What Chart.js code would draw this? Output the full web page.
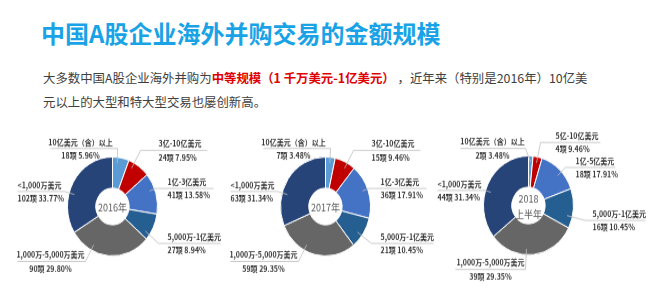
<!DOCTYPE html>
<html><head><meta charset="utf-8">
<script src="https://cdn.jsdelivr.net/npm/chart.js@4.4.0/dist/chart.umd.min.js"></script>
<style>
html,body{margin:0;padding:0;background:#fff;width:658px;height:306px;overflow:hidden;font-family:"Noto Sans CJK SC",sans-serif;}
#title{position:absolute;left:41px;top:17px;font-size:24px;font-weight:bold;color:#19a3e6;line-height:32px;white-space:nowrap;}
#sub{position:absolute;left:43px;top:66px;font-size:12.4px;line-height:24px;color:#404040;white-space:nowrap;}
#sub b{color:#e00000;}
.pie{position:absolute;width:250px;height:180px;transform:scaleY(1.1);transform-origin:125px 90px;}
</style></head><body>
<div id="title">中国A股企业海外并购交易的金额规模</div>
<div id="sub">大多数中国A股企业海外并购为<b>中等规模（1 千万美元-1亿美元）</b> ，近年来（特别是2016年）10亿美<br>元以上的大型和特大型交易也屡创新高。</div>
<div class="pie" style="left:-13px;top:117px"><canvas id="c2016"></canvas></div>
<div class="pie" style="left:200px;top:117px"><canvas id="c2017"></canvas></div>
<div class="pie" style="left:403px;top:116px"><canvas id="c2018"></canvas></div>
<script>
// categories
const names1617 = ['10亿美元（含）以上','3亿-10亿美元','1亿-3亿美元','5,000万-1亿美元','1,000万-5,000万美元','<1,000万美元'];
const names2018 = ['10亿美元（含）以上','5亿-10亿美元','1亿-5亿美元','5,000万-1亿美元','1,000万-5,000万美元','<1,000万美元'];
// deal counts (项) and printed shares (%)
const counts2016 = [18,24,41,27,90,102];
const pct2016 = [5.96,7.95,13.58,8.94,29.80,33.77];
const counts2017 = [7,15,36,21,59,63];
const pct2017 = [3.48,9.46,17.91,10.45,29.35,31.34];
const counts2018 = [2,4,18,16,39,44];
const pct2018 = [3.48,9.46,17.91,10.45,29.35,31.34];

const colors = ['#5b9bd5','#c00000','#4472c4','#255e91','#666666','#264478'];
const SY = 1.1; // pies are a little taller than wide in the picture

// label placement relative to pie centre (screen px): line y, line x0..x1, text x, align
const layout1617 = [
  {ly:-58,x0:-62,x1:5,tx:-32,al:'center'},
  {ly:-56,x0:28,x1:95,tx:46,al:'left'},
  {ly:-18,x0:43,x1:101,tx:55,al:'left'},
  {ly:37,x0:46,x1:108,tx:55,al:'left'},
  {ly:55,x0:-95,x1:-27,tx:-62,al:'center'},
  {ly:-15,x0:-95,x1:-48,tx:-95,al:'left'}
];
const layout2018 = [
  {ly:-57,x0:-68,x1:-3,tx:-36,al:'center'},
  {ly:-63,x0:12,x1:72,tx:27,al:'left'},
  {ly:-38,x0:37,x1:87,tx:47,al:'left'},
  {ly:15,x0:57,x1:117,tx:64,al:'left'},
  {ly:64,x0:-73,x1:-3,tx:-38,al:'center'},
  {ly:-15,x0:-91,x1:-43,tx:-91,al:'left'}
];

function makePie(id, names, counts, pct, lay, centre){
  const labelPlugin = {
    id:'pieLabels',
    afterDraw(chart){
      const ctx = chart.ctx;
      const arcs = chart.getDatasetMeta(0).data;
      const cx = arcs[0].x, cy = arcs[0].y, r = arcs[0].outerRadius;
      ctx.save();
      // centre text
      ctx.fillStyle = '#595959';
      ctx.font = '9px "Noto Sans CJK SC"';
      ctx.textAlign = 'center'; ctx.textBaseline = 'middle';
      if(centre.length===1) ctx.fillText(centre[0], cx, cy+1);
      else { ctx.fillText(centre[0], cx, cy-7/SY); ctx.fillText(centre[1], cx, cy+9/SY); }
      arcs.forEach((arc,i)=>{
        const L = lay[i];
        const ly = L.ly/SY;
        const conn = L.x0 > 0 ? L.x0 : L.x1;
        let a = Math.atan2(ly, conn);
        const s = arc.startAngle, e = arc.endAngle;
        while(a < s) a += Math.PI*2;
        while(a >= s + Math.PI*2) a -= Math.PI*2;
        const m = Math.min(0.12, (e-s)/2);
        if(a > e){ a = (a-e) < (s+Math.PI*2-a) ? e-m : s+m; }
        a = Math.max(s+m, Math.min(e-m, a));
        const px = cx + Math.cos(a)*r*0.88, py = cy + Math.sin(a)*r*0.88;
        ctx.strokeStyle = '#bfbfbf'; ctx.lineWidth = 0.8;
        ctx.beginPath();
        ctx.moveTo(px, py);
        ctx.lineTo(cx+conn, cy+ly);
        ctx.moveTo(cx+L.x0, cy+ly);
        ctx.lineTo(cx+L.x1, cy+ly);
        ctx.stroke();
        ctx.fillStyle = '#333';
        ctx.font = 'bold 7px "Noto Sans CJK SC"';
        ctx.textAlign = L.al;
        ctx.fillText(names[i], cx+L.tx, cy+ly-6.5/SY);
        ctx.fillText(counts[i]+'项 '+pct[i].toFixed(2)+'%', cx+L.tx, cy+ly+7/SY);
      });
      ctx.restore();
    }
  };
  return new Chart(document.getElementById(id), {
    type:'doughnut',
    data:{labels:names, datasets:[{data:counts, backgroundColor:colors, borderColor:'#ffffff', borderWidth:1, hoverOffset:0}]},
    options:{
      responsive:true, maintainAspectRatio:false, animation:false, cutout:'37%',
      layout:{padding:{left:80,right:79,top:44,bottom:45}},
      plugins:{legend:{display:false}, tooltip:{enabled:false}}
    },
    plugins:[labelPlugin]
  });
}

makePie('c2016', names1617, counts2016, pct2016, layout1617, ['2016年']);
makePie('c2017', names1617, counts2017, pct2017, layout1617, ['2017年']);
makePie('c2018', names2018, counts2018, pct2018, layout2018, ['2018','上半年']);
</script>
</body></html>
